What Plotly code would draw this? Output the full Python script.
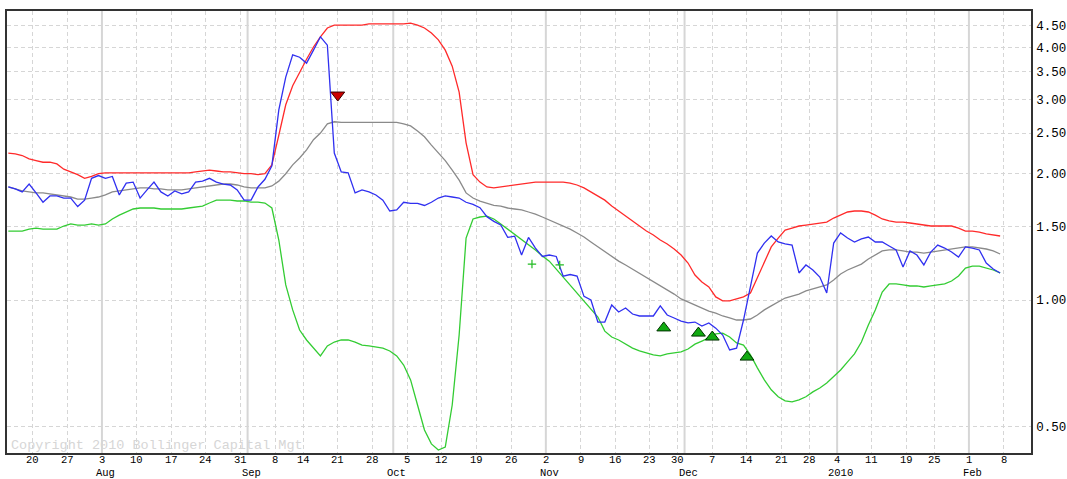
import pandas as pd
import plotly.graph_objects as go

# Trading calendar (NYSE holidays in the window are skipped)
HOLIDAYS = ["2009-09-07", "2009-11-26", "2009-12-25", "2010-01-01", "2010-01-18"]
trading_days = pd.bdate_range("2009-07-14", "2010-02-12", freq="C", holidays=HOLIDAYS)
day_pos = {d.strftime("%Y-%m-%d"): i for i, d in enumerate(trading_days)}

# Daily closes, first value is 2009-07-14
close = [
    1.86, 1.84, 1.81, 1.89, 1.80, 1.71, 1.77, 1.77, 1.75, 1.75,
    1.67, 1.73, 1.95, 1.98, 1.95, 1.97, 1.78, 1.90, 1.91, 1.75,
    1.83, 1.91, 1.81, 1.77, 1.82, 1.79, 1.81, 1.91, 1.92, 1.95,
    1.91, 1.89, 1.88, 1.83, 1.73, 1.73, 1.86, 1.94, 2.09, 2.84,
    3.40, 3.84, 3.79, 3.67, 3.94, 4.24, 4.05, 2.24, 2.02, 2.01,
    1.80, 1.83, 1.81, 1.78, 1.73, 1.63, 1.64, 1.71, 1.70, 1.70,
    1.68, 1.71, 1.75, 1.77, 1.76, 1.75, 1.71, 1.69, 1.66, 1.58,
    1.54, 1.51, 1.41, 1.42, 1.28, 1.41, 1.33, 1.27, 1.28, 1.27,
    1.14, 1.15, 1.14, 1.02, 1.00, 0.886, 0.886, 0.973, 0.936, 0.957,
    0.926, 0.916, 0.916, 0.916, 0.968, 0.921, 0.906, 0.891, 0.882, 0.886,
    0.867, 0.882, 0.857, 0.825, 0.760, 0.768, 0.896, 1.086, 1.294, 1.367,
    1.421, 1.375, 1.360, 1.352, 1.160, 1.212, 1.179, 1.134, 1.039, 1.367,
    1.445, 1.405, 1.375, 1.398, 1.413, 1.375, 1.375, 1.345, 1.316, 1.199,
    1.309, 1.280, 1.212, 1.301, 1.352, 1.330, 1.301, 1.266, 1.338, 1.330,
    1.316, 1.225, 1.185, 1.160,
]

upper_band = [
    2.24, 2.23, 2.21, 2.17, 2.15, 2.13, 2.13, 2.11, 2.05, 2.02,
    1.99, 1.95, 1.97, 2.00, 2.01, 2.01, 2.01, 2.01, 2.01, 2.01,
    2.01, 2.01, 2.01, 2.01, 2.01, 2.01, 2.01, 2.02, 2.03, 2.04,
    2.03, 2.02, 2.02, 2.01, 2.00, 2.00, 1.99, 2.00, 2.10, 2.47,
    2.92, 3.24, 3.50, 3.75, 4.01, 4.24, 4.45, 4.52, 4.52, 4.52,
    4.52, 4.52, 4.55, 4.55, 4.55, 4.55, 4.55, 4.55, 4.57, 4.52,
    4.45, 4.33, 4.17, 3.94, 3.61, 3.13, 2.37, 1.99, 1.91, 1.86,
    1.85, 1.86, 1.87, 1.88, 1.89, 1.90, 1.91, 1.91, 1.91, 1.91,
    1.91, 1.90, 1.88, 1.85, 1.81, 1.77, 1.73, 1.675, 1.63, 1.585,
    1.543, 1.501, 1.460, 1.429, 1.390, 1.360, 1.323, 1.280, 1.225, 1.147,
    1.104, 1.074, 1.017, 0.995, 0.995, 1.006, 1.017, 1.039, 1.129, 1.232,
    1.338, 1.405, 1.468, 1.484, 1.501, 1.509, 1.518, 1.526, 1.534, 1.568,
    1.594, 1.621, 1.630, 1.630, 1.621, 1.594, 1.560, 1.543, 1.534, 1.534,
    1.526, 1.518, 1.509, 1.501, 1.501, 1.501, 1.501, 1.484, 1.460, 1.460,
    1.452, 1.437, 1.429, 1.421,
]

middle_band = [
    1.86, 1.84, 1.82, 1.81, 1.80, 1.80, 1.79, 1.78, 1.77, 1.76,
    1.74, 1.74, 1.75, 1.76, 1.78, 1.81, 1.82, 1.83, 1.84, 1.85,
    1.85, 1.84, 1.84, 1.83, 1.83, 1.83, 1.84, 1.85, 1.86, 1.87,
    1.88, 1.89, 1.89, 1.88, 1.86, 1.85, 1.85, 1.85, 1.87, 1.92,
    2.00, 2.10, 2.18, 2.28, 2.41, 2.50, 2.63, 2.66, 2.65, 2.65,
    2.65, 2.65, 2.65, 2.65, 2.65, 2.65, 2.65, 2.63, 2.60, 2.53,
    2.45, 2.34, 2.24, 2.15, 2.04, 1.93, 1.80, 1.75, 1.72, 1.70,
    1.68, 1.675, 1.657, 1.648, 1.639, 1.621, 1.603, 1.577, 1.551, 1.526,
    1.501, 1.476, 1.445, 1.413, 1.375, 1.338, 1.301, 1.266, 1.238, 1.212,
    1.185, 1.160, 1.134, 1.104, 1.080, 1.056, 1.033, 1.006, 0.989, 0.973,
    0.957, 0.941, 0.931, 0.916, 0.906, 0.896, 0.896, 0.901, 0.921, 0.947,
    0.968, 0.989, 1.011, 1.022, 1.033, 1.051, 1.062, 1.074, 1.086, 1.116,
    1.154, 1.179, 1.199, 1.218, 1.252, 1.280, 1.309, 1.316, 1.316, 1.309,
    1.301, 1.301, 1.294, 1.301, 1.309, 1.316, 1.323, 1.330, 1.338, 1.338,
    1.330, 1.323, 1.309, 1.287,
]

lower_band = [
    1.46, 1.46, 1.46, 1.476, 1.484, 1.476, 1.476, 1.476, 1.501, 1.518,
    1.509, 1.509, 1.518, 1.509, 1.518, 1.560, 1.594, 1.621, 1.648, 1.657,
    1.657, 1.657, 1.648, 1.648, 1.648, 1.648, 1.657, 1.666, 1.675, 1.703,
    1.731, 1.731, 1.731, 1.722, 1.722, 1.712, 1.712, 1.703, 1.657, 1.390,
    1.086, 0.947, 0.848, 0.803, 0.768, 0.736, 0.777, 0.794, 0.803, 0.803,
    0.794, 0.781, 0.777, 0.773, 0.768, 0.756, 0.736, 0.700, 0.645, 0.562,
    0.490, 0.454, 0.439, 0.446, 0.562, 0.825, 1.405, 1.560, 1.577, 1.585,
    1.560, 1.518, 1.476, 1.429, 1.390, 1.352, 1.316, 1.273, 1.238, 1.185,
    1.134, 1.092, 1.045, 1.000, 0.957, 0.911, 0.843, 0.816, 0.803, 0.785,
    0.768, 0.756, 0.748, 0.740, 0.736, 0.744, 0.748, 0.752, 0.764, 0.785,
    0.798, 0.812, 0.830, 0.834, 0.816, 0.790, 0.781, 0.740, 0.689, 0.645,
    0.611, 0.588, 0.575, 0.572, 0.578, 0.588, 0.604, 0.617, 0.634, 0.656,
    0.681, 0.712, 0.744, 0.794, 0.872, 0.947, 1.045, 1.092, 1.092, 1.086,
    1.080, 1.080, 1.074, 1.080, 1.086, 1.092, 1.110, 1.141, 1.192, 1.205,
    1.205, 1.192, 1.179, 1.160,
]

# Signal markers
sell_dates = ["2009-09-21"]
sell_values = [3.08]
buy_dates = ["2009-11-25", "2009-12-03", "2009-12-07", "2009-12-14"]
buy_values = [0.858, 0.834, 0.816, 0.731]
touch_dates = ["2009-10-29", "2009-11-04"]
touch_values = [1.218, 1.212]

y_tick_values = [0.5, 1.0, 1.5, 2.0, 2.5, 3.0, 3.5, 4.0, 4.5]
y_tick_labels = ["0.50", "1.00", "1.50", "2.00", "2.50", "3.00", "3.50", "4.00", "4.50"]

# Each trading day occupies one unit slot; closes and bands sit mid-slot
x_series = [i + 0.5 for i in range(len(close))]

week_starts, month_starts = [], []
for i in range(1, len(trading_days)):
    d, prev = trading_days[i], trading_days[i - 1]
    if d.isocalendar().week != prev.isocalendar().week:
        week_starts.append((i, str(d.day)))
    if d.month != prev.month:
        month_starts.append((i, "2010" if d.month == 1 else d.strftime("%b")))

MONO = "Liberation Mono, DejaVu Sans Mono, monospace"
GRID = "#d6d6d6"
X_RANGE = [0.31, 147.95]

fig = go.Figure()
line_specs = [
    (upper_band, "#ff2a2a"),
    (middle_band, "#8a8a8a"),
    (lower_band, "#33cc33"),
    (close, "#3030f0"),
]
for values, color in line_specs:
    fig.add_trace(go.Scatter(x=x_series, y=values, mode="lines",
                             line=dict(color=color, width=1.3), hoverinfo="skip"))

fig.add_trace(go.Scatter(
    x=[day_pos[d] for d in touch_dates], y=touch_values, mode="markers",
    marker=dict(symbol="cross-thin", size=6, line=dict(color="#22bb22", width=1.2))))
fig.add_trace(go.Scatter(
    x=[day_pos[d] for d in sell_dates], y=sell_values, mode="markers",
    marker=dict(symbol="triangle-down", size=12, color="#cc0000",
                line=dict(color="#3a0000", width=1))))
fig.add_trace(go.Scatter(
    x=[day_pos[d] for d in buy_dates], y=buy_values, mode="markers",
    marker=dict(symbol="triangle-up", size=12, color="#11aa11",
                line=dict(color="#003300", width=1))))

# Solid rules at the first trading day of each month
for i, _ in month_starts:
    fig.add_shape(type="line", xref="x", yref="paper", x0=i, x1=i, y0=0, y1=1,
                  line=dict(color=GRID, width=2), layer="below")

# Two-row date axis: week-start day numbers, then month names
label_font = dict(family=MONO, size=10.5, color="black")
annotations = [
    dict(x=i, xref="x", y=0, yref="paper", yanchor="middle", yshift=-6.5,
         text=label, showarrow=False, borderpad=0, font=label_font)
    for i, label in week_starts if X_RANGE[0] < i < X_RANGE[1]
]
annotations += [
    dict(x=i + 0.5, xref="x", y=0, yref="paper", yanchor="middle", yshift=-19.5,
         text=label, showarrow=False, borderpad=0, font=label_font)
    for i, label in month_starts
]
annotations.append(dict(
    x=0, xref="paper", xanchor="left", xshift=2, y=0, yref="paper", yanchor="bottom",
    yshift=-2, text="Copyright 2010 Bollinger Capital Mgt", showarrow=False,
    font=dict(family=MONO, size=13.5, color="#d6d6d6")))

fig.update_layout(
    width=1067, height=479,
    margin=dict(l=7, r=36, t=11, b=26, autoexpand=False),
    paper_bgcolor="white", plot_bgcolor="white",
    showlegend=False,
    font=dict(family=MONO, size=12, color="black"),
    annotations=annotations,
)
fig.update_xaxes(
    range=X_RANGE, automargin=False,
    tickvals=[i for i, _ in week_starts], showticklabels=False,
    showgrid=True, gridcolor=GRID, griddash="4px,3px", gridwidth=1,
    showline=True, linecolor="#333333", linewidth=1.5, mirror=True,
    ticks="", zeroline=False,
)
fig.update_yaxes(
    type="log", range=[-0.3647, 0.6889], side="right", automargin=False,
    tickvals=y_tick_values, ticktext=y_tick_labels,
    showgrid=True, gridcolor=GRID, griddash="4px,3px", gridwidth=1,
    showline=True, linecolor="#333333", linewidth=1.5, mirror=True,
    ticks="", zeroline=False, ticklabelstandoff=1,
    tickfont=dict(family=MONO, size=12.5, color="black"),
)

fig.write_html("out.html")
